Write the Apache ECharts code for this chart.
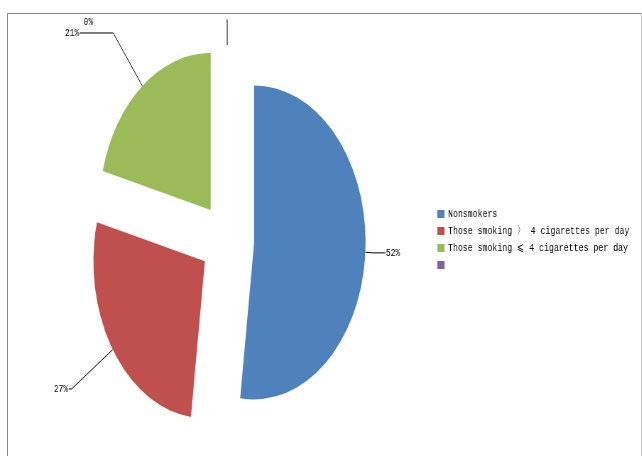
<!DOCTYPE html>
<html>
<head>
<meta charset="utf-8">
<script src="https://cdn.jsdelivr.net/npm/echarts@6/dist/echarts.min.js"></script>
<style>
  html, body { margin: 0; padding: 0; background: #fff; overflow: hidden; }
  #wrap { position: absolute; left: 0; top: 0; width: 642px; height: 456px; overflow: hidden; }
  #chart { position: absolute; left: 0; top: 0; width: 904px; height: 456px; transform: scaleX(0.71); transform-origin: 0 0; }
  #frame { position: absolute; left: 7px; top: 13px; width: 633px; height: 460px; border-top: 1px solid #8a8a8a; border-left: 1px solid #8a8a8a; border-right: 1px solid #c8c8c8; }
</style>
</head>
<body>
<div id="wrap">
  <div id="chart"></div>
  <div id="frame"></div>
</div>
<script>
const categories = ['Nonsmokers', 'Those smoking \u3009 4 cigarettes per day', 'Those smoking \u2a7d 4 cigarettes per day', ' '];
const values = [52, 27, 21, 0];
const colors = ['#4F81BD', '#C0504D', '#9BBB59', '#8064A2'];
const lineLen = [10, 70, 67, 25];
const lineLen2 = [18, 4, 47, 1];
const labelShift = [0, 0, 0, -187];

const chart = echarts.init(document.getElementById('chart'), null, { renderer: 'canvas' });
chart.setOption({
  animation: false,
  backgroundColor: '#fff',
  color: colors,
  legend: {
    orient: 'vertical',
    left: 611,
    top: 203,
    itemWidth: 10,
    itemHeight: 8,
    itemGap: 5,
    icon: 'rect',
    data: categories,
    textStyle: { fontFamily: 'Liberation Mono', fontSize: 11.6, color: '#000', lineHeight: 12 }
  },
  series: [{
    type: 'pie',
    center: [320, 240],
    radius: 157,
    startAngle: 90,
    clockwise: true,
    selectedMode: 'multiple',
    selectedOffset: 38,
    avoidLabelOverlap: false,
    label: {
      show: true,
      position: 'outside',
      formatter: p => p.value + '%',
      fontFamily: 'Liberation Mono',
      fontSize: 11,
      color: '#000',
      distanceToLabelLine: 1
    },
    labelLayout: p => labelShift[p.dataIndex]
      ? { dx: labelShift[p.dataIndex], dy: 2, labelLinePoints: p.labelLinePoints }
      : {},
    labelLine: { show: true, smooth: false, lineStyle: { color: '#000', width: 1 } },
    emphasis: { disabled: true },
    itemStyle: { borderWidth: 0 },
    data: categories.map((c, i) => ({
      name: c,
      value: values[i],
      selected: true,
      labelLine: { length: lineLen[i], length2: lineLen2[i] }
    }))
  }]
});
</script>
</body>
</html>
